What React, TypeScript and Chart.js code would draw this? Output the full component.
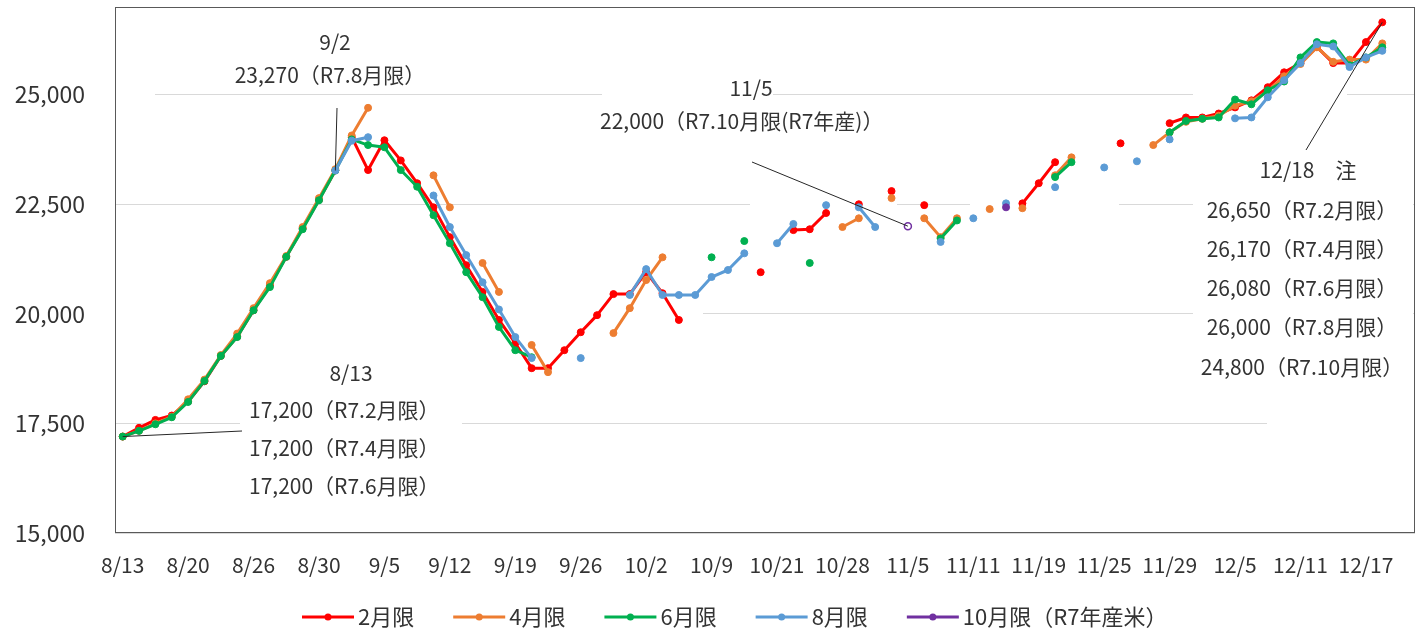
import { useEffect, useRef } from 'react';
import { Chart, registerables } from 'chart.js';

Chart.register(...registerables);

// ---------- data ----------
const TICK_LABELS = ['8/13', '8/20', '8/26', '8/30', '9/5', '9/12', '9/19', '9/26', '10/2', '10/9',
  '10/21', '10/28', '11/5', '11/11', '11/19', '11/25', '11/29', '12/5', '12/11', '12/17'];
const TICK_EVERY = 4;
const Y_TICKS = [15000, 17500, 20000, 22500, 25000];
const _ = null;

// 2月限
const FEB: (number | null)[] = [
  17200, 17400, 17580, 17680, 18000, 18460, 19040, 19480, 20080, 20650,
  21300, 21950, 22600, 23270, 24030, 23280, 23960, 23500, 22980, 22430,
  21750, 21110, 20500, 19860, 19330, 18760, 18760, 19170, 19580, 19970,
  20450, 20450, 20950, 20470, 19860, _, _, _, _, 20950,
  _, 21910, 21930, 22300, _, 22500, _, 22800, _, 22480,
  _, _, _, _, _, 22520, 22980, 23460, _, _,
  _, 23890, _, _, 24350, 24480, 24480, 24570, 24710, 24870,
  25170, 25510, 25720, 26090, 25720, 25720, 26200, 26650,
];
// 4月限
const APR: (number | null)[] = [
  17200, 17330, 17500, 17650, 18050, 18500, 19060, 19550, 20130, 20700,
  21320, 21980, 22640, 23300, 24070, 24700, _, _, _, 23160,
  22430, _, 21160, 20500, _, 19290, 18670, _, _, _,
  19560, 20130, 20770, 21290, _, _, _, _, _, _,
  _, _, _, _, 21980, 22180, _, 22640, _, 22180,
  21750, 22180, _, 22390, _, 22410, _, 23160, 23570, _,
  _, _, _, 23850, 24140, 24380, 24450, 24520, 24750, 24850,
  25080, 25420, 25700, 26080, 25750, 25800, 25800, 26170,
];
// 6月限
const JUN: (number | null)[] = [
  17200, 17330, 17480, 17640, 17990, 18470, 19040, 19470, 20080, 20610,
  21300, 21930, 22590, 23270, 23980, 23850, 23800, 23280, 22900, 22250,
  21610, 20950, 20380, 19700, 19170, 19010, _, _, _, _,
  _, _, _, _, _, _, 21290, _, 21660, _,
  _, _, 21160, _, _, _, _, _, _, _,
  21720, 22130, _, _, _, _, _, 23120, 23460, _,
  _, _, _, _, 24140, 24400, 24450, 24480, 24890, 24780,
  25100, 25300, 25850, 26200, 26170, 25670, 25850, 26080,
];
// 8月限
const AUG: (number | null)[] = [
  _, _, _, _, _, _, _, _, _, _,
  _, _, _, 23270, 23950, 24030, _, _, _, 22700,
  21980, 21340, 20720, 20100, 19470, 18990, _, _, 18990, _,
  _, 20430, 21020, 20430, 20430, 20430, 20840, 21000, 21380, _,
  21610, 22050, _, 22480, _, 22430, 21980, _, _, _,
  21640, _, 22180, _, 22520, _, _, 22890, _, _,
  23340, _, 23480, _, 23980, _, _, _, 24460, 24480,
  24940, 25330, 25720, 26150, 26100, 25630, 25850, 26000,
];
// 10月限（R7年産米）
const OCT: (number | null)[] = [
  _, _, _, _, _, _, _, _, _, _,
  _, _, _, _, _, _, _, _, _, _,
  _, _, _, _, _, _, _, _, _, _,
  _, _, _, _, _, _, _, _, _, _,
  _, _, _, _, _, _, _, _, 22000, _,
  _, _, _, _, 22430, _, _, _, _, _,
  _, _, _, _, _, _, _, _, _, _,
  _, _, _, _, _, _, _, _,
];
const HOLLOW_INDEX = 48;

const SERIES_LABELS = ['2月限', '4月限', '6月限', '8月限', '10月限（R7年産米）'];
const SERIES_DATA = [FEB, APR, JUN, AUG, OCT];
const SERIES_COLORS = ['#FF0000', '#ED7D31', '#00B050', '#5B9BD5', '#7030A0'];

// annotation texts
const NOTE_SEP = ['9/2', '23,270（R7.8月限）'];
const NOTE_AUG = ['8/13', '17,200（R7.2月限）', '17,200（R7.4月限）', '17,200（R7.6月限）'];
const NOTE_NOV = ['11/5', '22,000（R7.10月限(R7年産)）'];
const NOTE_DEC = ['12/18　注', '26,650（R7.2月限）', '26,170（R7.4月限）', '26,080（R7.6月限）', '26,000（R7.8月限）', '24,800（R7.10月限）'];

// ---------- style ----------
const FONT = '"Noto Sans CJK JP", "Noto Sans", sans-serif';
const TEXT = '#333333';
// white text-box backgrounds that hide parts of the gridlines: [x, y, w, h]
const GRID_COVERS = [
  [115, 88, 40, 12], [602, 88, 171, 12], [1193, 88, 154, 12],
  [750, 198, 147, 12], [970, 198, 149, 12], [1193, 198, 220, 12],
  [115, 308, 588, 12], [1193, 308, 220, 12],
  [240, 418, 222, 12], [1267, 418, 151, 12],
];

const coverPlugin = {
  id: 'coverAndBorder',
  beforeDatasetsDraw(chart: any) {
    const { ctx, chartArea: a } = chart;
    ctx.save();
    ctx.fillStyle = '#ffffff';
    for (const [x, y, w, h] of GRID_COVERS) ctx.fillRect(x, y, w, h);
    ctx.strokeStyle = '#595959';
    ctx.lineWidth = 1;
    ctx.strokeRect(a.left + 0.5, a.top + 0.5, a.right - a.left - 1, a.bottom - a.top - 1);
    ctx.restore();
  },
};

const notesPlugin = {
  id: 'notes',
  afterDraw(chart: any) {
    const { ctx, scales } = chart;
    const px = (i: number) => scales.x.getPixelForValue(i);
    const py = (v: number) => scales.y.getPixelForValue(v);
    ctx.save();
    ctx.fillStyle = TEXT;
    ctx.textBaseline = 'middle';
    ctx.font = `21px ${FONT}`;

    // leader lines
    ctx.strokeStyle = '#262626';
    ctx.lineWidth = 1;
    const lead = (x0: number, y0: number, x1: number, y1: number) => {
      ctx.beginPath(); ctx.moveTo(x0, y0); ctx.lineTo(x1, y1); ctx.stroke();
    };
    lead(337, 108, px(13), py(AUG[13] as number));
    lead(242, 431, px(0), py(FEB[0] as number));
    lead(752, 162, px(HOLLOW_INDEX), py(OCT[HOLLOW_INDEX] as number));
    lead(1306, 150, px(77), py(FEB[77] as number));

    // 9/2
    ctx.textAlign = 'center';
    ctx.fillText(NOTE_SEP[0], 335, 42);
    ctx.fillText(NOTE_SEP[1], 330, 75);
    // 8/13
    ctx.fillText(NOTE_AUG[0], 351, 373);
    ctx.textAlign = 'left';
    [410, 448, 486].forEach((y, k) => ctx.fillText(NOTE_AUG[k + 1], 249, y));
    // 11/5
    ctx.textAlign = 'center';
    ctx.fillText(NOTE_NOV[0], 751, 88);
    ctx.textAlign = 'left';
    ctx.fillText(NOTE_NOV[1], 600, 121);
    // 12/18
    ctx.textAlign = 'center';
    ctx.fillText(NOTE_DEC[0], 1308, 170);
    [210, 249, 288, 327, 367].forEach((y, k) => ctx.fillText(NOTE_DEC[k + 1], 1302, y));
    ctx.restore();
  },
};

const legendPlugin = {
  id: 'lineLegend',
  afterDraw(chart: any) {
    const { ctx } = chart;
    ctx.save();
    ctx.font = `22px ${FONT}`;
    ctx.textBaseline = 'middle';
    ctx.textAlign = 'left';
    let x = 302;
    const y = 617;
    chart.data.datasets.forEach((ds: any) => {
      ctx.strokeStyle = ds.borderColor;
      ctx.lineWidth = 3;
      ctx.beginPath(); ctx.moveTo(x, y); ctx.lineTo(x + 52, y); ctx.stroke();
      ctx.fillStyle = ds.borderColor;
      ctx.beginPath(); ctx.arc(x + 26, y, 3.5, 0, Math.PI * 2); ctx.fill();
      ctx.fillStyle = TEXT;
      ctx.fillText(ds.label, x + 56, y);
      x += 56 + ctx.measureText(ds.label).width + 39;
    });
    ctx.restore();
  },
};

export default function App() {
  const ref = useRef<HTMLCanvasElement | null>(null);

  useEffect(() => {
    if (!ref.current) return;
    const datasets = SERIES_DATA.map((arr, s) => ({
      label: SERIES_LABELS[s],
      data: arr.map((v, i) => ({ x: i, y: v })),
      borderColor: SERIES_COLORS[s],
      backgroundColor: SERIES_COLORS[s],
      pointBackgroundColor: (c: any) => (s === 4 && c.dataIndex === HOLLOW_INDEX ? '#ffffff' : SERIES_COLORS[s]),
      pointBorderColor: SERIES_COLORS[s],
      pointRadius: 3.5,
      pointBorderWidth: (c: any) => (s === 4 && c.dataIndex === HOLLOW_INDEX ? 1.5 : 1),
      borderWidth: 3,
      borderJoinStyle: 'round' as const,
      borderCapStyle: 'round' as const,
      spanGaps: false,
      tension: 0,
      order: 5 - s,
    }));

    const chart = new Chart(ref.current, {
      type: 'line',
      data: { datasets },
      options: {
        animation: false,
        responsive: true,
        maintainAspectRatio: false,
        layout: { padding: { top: 7, right: 2, bottom: 37, left: 0 } },
        plugins: { legend: { display: false }, tooltip: { enabled: false } },
        scales: {
          x: {
            type: 'linear',
            min: -0.47,
            max: 79,
            grid: { display: false, drawTicks: false },
            border: { display: false },
            afterBuildTicks: (s: any) => {
              s.ticks = TICK_LABELS.map((_l, k) => ({ value: k * TICK_EVERY }));
            },
            afterFit: (s: any) => {
              s.height = 60;
              s.paddingLeft = 0;
              s.paddingRight = 0;
            },
            ticks: {
              autoSkip: false,
              maxRotation: 0,
              padding: 19,
              color: TEXT,
              font: { family: FONT, size: 21 },
              callback: (_v: any, idx: number) => TICK_LABELS[idx],
            },
          },
          y: {
            type: 'linear',
            min: 15000,
            max: 27000,
            grid: { color: '#d9d9d9', lineWidth: 1, drawTicks: false },
            border: { display: false },
            afterBuildTicks: (s: any) => {
              s.ticks = Y_TICKS.map((v) => ({ value: v }));
            },
            afterFit: (s: any) => {
              s.width = 115;
              s.paddingTop = 0;
              s.paddingBottom = 0;
            },
            ticks: {
              padding: 30,
              color: TEXT,
              font: { family: FONT, size: 23 },
              callback: (v: any) => Number(v).toLocaleString('en-US'),
            },
          },
        },
      },
      plugins: [coverPlugin, notesPlugin, legendPlugin],
    });
    return () => chart.destroy();
  }, []);

  return (
    <div style={{ position: 'absolute', left: 0, top: 0, width: 1420, height: 630, background: '#fff' }}>
      <canvas ref={ref} />
    </div>
  );
}
